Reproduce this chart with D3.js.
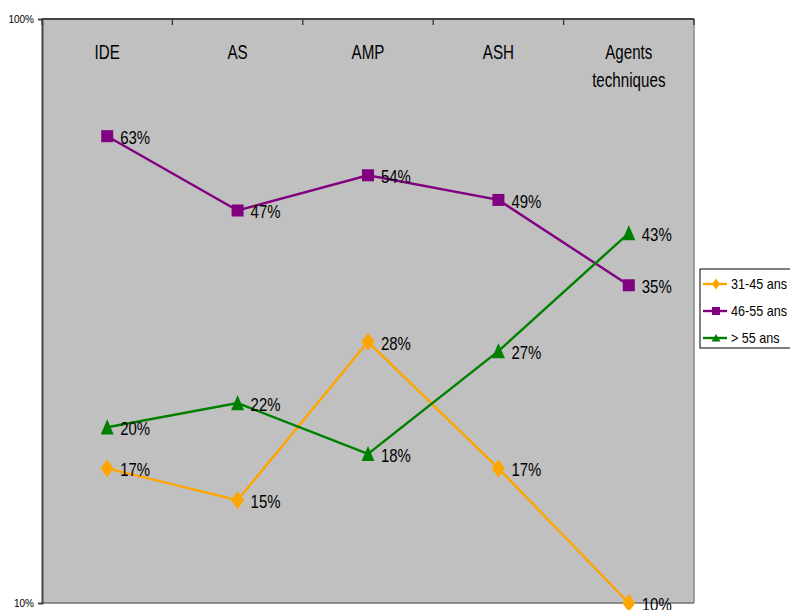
<!DOCTYPE html>
<html>
<head>
<meta charset="utf-8">
<script src="https://cdn.jsdelivr.net/npm/d3@7"></script>
<style>
  html, body { margin: 0; padding: 0; background: #fff; }
  svg { display: block; font-family: "Liberation Sans", Arial, sans-serif; }
</style>
</head>
<body>
<svg id="chart" width="790" height="610"></svg>
<script>
// Job categories (top axis)
const categories = ["IDE", "AS", "AMP", "ASH", "Agents techniques"];
// Share per age band, in percent
const age31to45 = [17, 15, 28, 17, 10];
const age46to55 = [63, 47, 54, 49, 35];
const age55plus = [20, 22, 18, 27, 43];
const seriesNames = ["31-45 ans", "46-55 ans", "> 55 ans"];
const yTicks = [10, 100];

// Marker shapes: w = half-width, h = half-height
const markerPath = {
  diamond: (w, h) => `M0,${-h}L${w},0L0,${h}L${-w},0Z`,
  square: (w, h) => `M${-w},${-h}H${w}V${h}H${-w}Z`,
  triangle: (w, h) => `M0,${-h}L${w},${h * 0.9}L${-w},${h * 0.9}Z`
};

const series = [
  { name: seriesNames[0], values: age31to45, color: "#FFA500", shape: "diamond", w: 6.5, h: 9, lw: 4, lh: 5.5 },
  { name: seriesNames[1], values: age46to55, color: "#800080", shape: "square", w: 6, h: 6, lw: 4, lh: 4 },
  { name: seriesNames[2], values: age55plus, color: "#008000", shape: "triangle", w: 6.5, h: 8, lw: 4.5, lh: 4 }
];

const svg = d3.select("#chart");
const plot = { left: 42, top: 19, right: 694, bottom: 603 };

const x = d3.scaleBand().domain(categories).range([plot.left, plot.right]);
const y = d3.scaleLog().domain([10, 100]).range([plot.bottom, plot.top]);

// Condensed text helper (horizontal squeeze)
function label(g, tx, ty, str, size, sx, anchor) {
  return g.append("text")
    .attr("transform", `translate(${tx},${ty}) scale(${sx},1)`)
    .attr("font-size", size).attr("fill", "#000")
    .attr("text-anchor", anchor || "start")
    .text(str);
}

// plot background
svg.append("rect")
  .attr("x", plot.left).attr("y", plot.top)
  .attr("width", plot.right - plot.left).attr("height", plot.bottom - plot.top)
  .attr("fill", "#C0C0C0");

// right and bottom borders
svg.append("line").attr("x1", plot.right).attr("x2", plot.right)
  .attr("y1", plot.top).attr("y2", plot.bottom).attr("stroke", "#8a8a8a").attr("stroke-width", 1.5);
svg.append("line").attr("x1", plot.left).attr("x2", plot.right)
  .attr("y1", plot.bottom).attr("y2", plot.bottom).attr("stroke", "#707070").attr("stroke-width", 1.5);

// top category axis with inner ticks at category boundaries
const boundaries = categories.map(c => x(c)).concat([plot.right]);
const topAxis = svg.append("g");
topAxis.selectAll("line.tick").data(boundaries).join("line")
  .attr("x1", d => d).attr("x2", d => d)
  .attr("y1", plot.top).attr("y2", plot.top + 6)
  .attr("stroke", "#333").attr("stroke-width", 1.3);
topAxis.append("line").attr("x1", plot.left).attr("x2", plot.right)
  .attr("y1", plot.top).attr("y2", plot.top).attr("stroke", "#444").attr("stroke-width", 2);

// category labels
const cx = c => x(c) + x.bandwidth() / 2;
const catLabels = svg.append("g");
categories.forEach(c => {
  c.split(" ").forEach((w, i) => {
    label(catLabels, cx(c), 59 + i * 27.5, w, 20.5, 0.74, "middle");
  });
});

// left value axis
const leftAxis = d3.axisLeft(y).tickValues(yTicks).tickFormat(d => d + "%").tickSize(4);
const la = svg.append("g").attr("transform", `translate(${plot.left},0)`).call(leftAxis);
la.select(".domain").attr("stroke", "#444").attr("stroke-width", 2);
la.selectAll(".tick line").attr("stroke", "#444");
la.selectAll(".tick text").attr("font-size", 10).attr("font-family", "Liberation Sans, Arial, sans-serif")
  .attr("fill", "#000").attr("x", -8).attr("dy", "0.35em");

// series lines, markers and value labels
const line = d3.line().x(d => cx(d.cat)).y(d => y(d.v));

series.forEach(s => {
  const pts = categories.map((c, i) => ({ cat: c, v: s.values[i] }));
  svg.append("path").datum(pts).attr("d", line)
    .attr("fill", "none").attr("stroke", s.color).attr("stroke-width", 2.4);
  svg.append("g").selectAll("path").data(pts).join("path")
    .attr("d", markerPath[s.shape](s.w, s.h))
    .attr("transform", d => `translate(${cx(d.cat)},${y(d.v)})`)
    .attr("fill", s.color);
  const lg = svg.append("g");
  pts.forEach(d => label(lg, cx(d.cat) + 13, y(d.v) + 8, d.v + "%", 18, 0.83));
});

// legend
const lg = svg.append("g").attr("transform", "translate(700,269)");
lg.append("rect").attr("x", 0).attr("y", 0).attr("width", 92).attr("height", 79)
  .attr("fill", "#fff").attr("stroke", "#000").attr("stroke-width", 1);
series.forEach((s, i) => {
  const gy = 15 + i * 27;
  lg.append("line").attr("x1", 3).attr("x2", 27).attr("y1", gy).attr("y2", gy)
    .attr("stroke", s.color).attr("stroke-width", 2.4);
  lg.append("path").attr("d", markerPath[s.shape](s.lw, s.lh))
    .attr("transform", `translate(16,${gy})`).attr("fill", s.color);
  label(lg, 31, gy + 5, s.name, 14, 0.9);
});
</script>
</body>
</html>
